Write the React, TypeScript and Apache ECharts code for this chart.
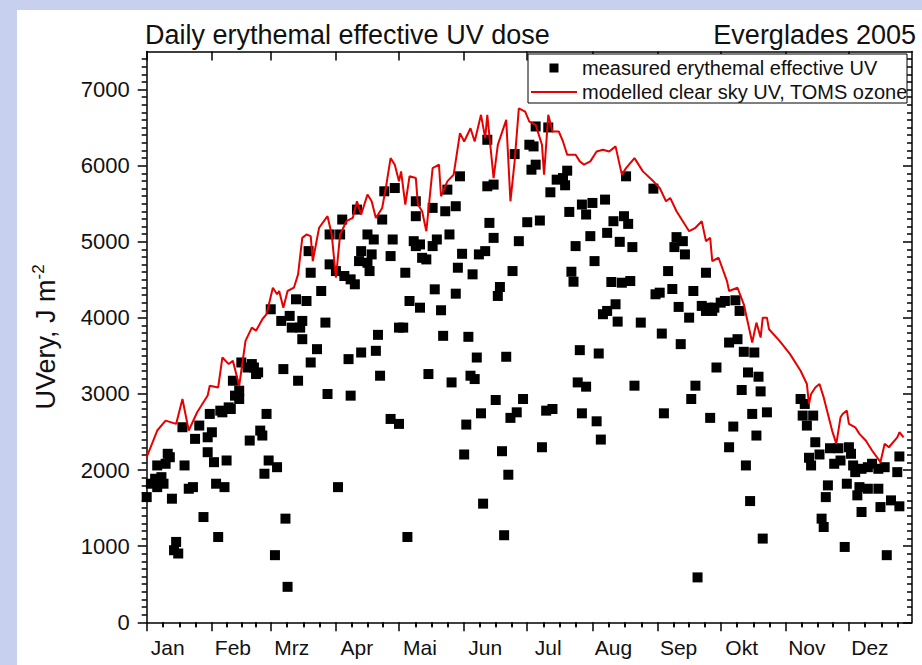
import React, { useEffect, useRef } from 'react';
import * as echarts from 'echarts';

// ---- data ----
const monthNames = ['Jan', 'Feb', 'Mrz', 'Apr', 'Mai', 'Jun', 'Jul', 'Aug', 'Sep', 'Okt', 'Nov', 'Dez'];
const monthStarts = [1, 32, 60, 91, 121, 152, 182, 213, 244, 274, 305, 335];
const yTickValues = [0, 1000, 2000, 3000, 4000, 5000, 6000, 7000];

// measured erythemal effective UV (day of year, J m-2)
const measuredDay = [
  1, 3, 5, 6, 8, 9, 6, 10, 11, 12, 13, 14, 15, 16, 18, 19, 21, 23, 24, 26, 28, 30, 30, 31, 32, 33, 34, 35, 36, 37,
  38, 39, 40, 41, 42, 43, 45, 45, 46, 49, 50, 51, 52, 53, 54, 55, 56, 57, 58, 59, 60, 62, 63, 65, 66, 67, 68, 69, 70, 72,
  73, 74, 75, 75, 77, 78, 79, 79, 82, 84, 86, 87, 88, 88, 91, 92, 93, 94, 95, 97, 98, 98, 100, 101, 102, 103, 103, 106, 106, 107,
  108, 109, 110, 111, 112, 113, 114, 117, 117, 118, 119, 121, 121, 123, 124, 125, 126, 128, 129, 129, 129, 131, 131, 132, 134, 135, 137, 137, 138, 139,
  141, 142, 143, 144, 145, 146, 148, 148, 149, 150, 151, 152, 153, 154, 155, 156, 157, 158, 159, 160, 161, 162, 163, 163, 164, 166, 166, 167, 168, 169,
  170, 171, 172, 173, 174, 175, 176, 177, 178, 180, 182, 183, 184, 185, 186, 186, 188, 189, 191, 192, 193, 194, 196, 199, 200, 201, 202, 203, 204, 205,
  206, 207, 208, 208, 210, 210, 212, 213, 214, 215, 216, 217, 218, 219, 220, 220, 222, 223, 224, 225, 226, 227, 228, 229, 230, 231, 232, 233, 236, 242,
  243, 245, 246, 247, 249, 251, 252, 253, 254, 255, 256, 257, 259, 260, 261, 262, 263, 265, 267, 267, 268, 269, 270, 271, 272, 274, 276, 278, 278, 280,
  281, 282, 283, 284, 285, 286, 287, 288, 289, 290, 291, 292, 293, 294, 296, 312, 313, 314, 315, 316, 317, 318, 319, 321, 322, 323, 324, 325, 326, 328,
  330, 331, 333, 334, 335, 336, 337, 338, 339, 340, 341, 341, 344, 344, 346, 349, 349, 350, 352, 353, 355, 358, 359, 359,
];
const measuredUV = [
  1645, 1821, 1886, 1776, 1907, 1821, 2061, 2083, 2214, 2169, 1624, 947, 1056, 904, 2563, 2061, 1755, 1776, 2410, 2585, 1383, 2431, 2235, 2738, 2497, 2104, 1821, 1121, 2781, 2759,
  1776, 2126, 2824, 2803, 3174, 2978, 2934, 3043, 3414, 3348, 2388, 3393, 3348, 3262, 3283, 2519, 2454, 1952, 2738, 2126, 4113, 882, 2038, 3960, 3327, 1362, 466, 4026, 3872, 4244,
  3174, 3872, 3960, 3720, 4222, 4877, 4593, 3414, 3589, 4353, 3938, 3000, 5096, 4703, 4615, 1776, 5096, 5292, 4550, 3458, 2978, 4506, 4441, 5423, 4746, 3545, 4877, 5096, 4724, 4615,
  4834, 5030, 3567, 3777, 3240, 5292, 5663, 4812, 2672, 5030, 5706, 2607, 3872, 3872, 4593, 1121, 4222, 5008, 5336, 5532, 4943, 4134, 4965, 4789, 4768, 3262, 5445, 4943, 4375, 5030,
  4100, 3764, 5401, 5685, 5096, 3152, 5467, 4318, 4659, 5860, 4842, 2205, 2598, 3751, 3240, 4572, 3196, 3479, 4834, 2746, 1559, 4877, 5729, 6340, 5248, 5051, 5751, 2921, 4288, 4406,
  2248, 1144, 3489, 1939, 2686, 4615, 6152, 2759, 5008, 2934, 5257, 6275, 5947, 6253, 6515, 6013, 5279, 2300, 2781, 6502, 5650, 2803, 5816, 5837, 5742, 5934, 5392, 4606, 4475, 4943,
  3152, 3576, 5489, 2746, 3096, 5358, 5074, 5510, 4746, 2641, 3532, 2401, 4048, 5554, 5117, 4091, 4471, 5270, 4179, 3951, 4999, 4462, 5336, 5860, 5235, 4484, 4930, 3109, 3938, 5698,
  4310, 4331, 3794, 2746, 4615, 4379, 4930, 5061, 4144, 3655, 5008, 4834, 4003, 2934, 4353, 3109, 590, 4157, 4091, 4593, 4134, 2686, 4091, 4134, 3348, 4200, 4222, 3676, 2300, 2572,
  4231, 3720, 4091, 3052, 3554, 2061, 3283, 1593, 2738, 3545, 2454, 3227, 3034, 1100, 2759, 2934, 2716, 2869, 2585, 2162, 2061, 2716, 2366, 2205, 1362, 1252, 1645, 1799, 2287, 2083,
  2287, 2126, 990, 1821, 2300, 2214, 2061, 1973, 1668, 1776, 2017, 1449, 2038, 1755, 2083, 2017, 1755, 1514, 2038, 882, 1602, 1973, 2179, 1524,
];

// modelled clear sky UV, TOMS ozone (day of year, J m-2)
const modelDay = [
  1, 6, 10, 15, 18, 21, 25, 30, 31, 35, 37, 40, 42, 45, 48, 51, 53, 56, 58, 61, 63, 64, 66, 68, 71, 73, 75, 77, 79, 80,
  83, 87, 89, 91, 93, 96, 99, 101, 103, 106, 108, 110, 113, 115, 117, 119, 121, 122, 124, 126, 129, 130, 132, 134, 137, 140, 141, 144, 147, 150,
  152, 155, 157, 160, 162, 163, 166, 168, 172, 174, 176, 178, 181, 183, 186, 189, 190, 192, 194, 197, 199, 201, 205, 207, 209, 212, 215, 218, 221, 224,
  227, 229, 233, 237, 242, 245, 248, 250, 253, 256, 259, 262, 265, 267, 269, 270, 273, 277, 278, 282, 285, 289, 291, 293, 294, 296, 297, 302, 307, 312,
  315, 316, 317, 319, 321, 323, 325, 327, 329, 331, 332, 334, 335, 338, 340, 343, 346, 350, 352, 354, 358, 359, 361,
];
const modelUV = [
  2170, 2520, 2650, 2607, 2934, 2520, 2760, 2980, 3108, 3086, 3480, 3393, 3436, 3108, 3698, 3872, 3830, 3982, 4048, 4396, 4310, 4353, 4134, 4353, 4396, 4572, 5051, 5096, 5074, 4746,
  5184, 5336, 5096, 4527, 5096, 5270, 5313, 5532, 5358, 5620, 5532, 5313, 5444, 5751, 6099, 6013, 5794, 5925, 5489, 5860, 5837, 5489, 5401, 5139, 5968, 6013, 5598, 5794, 5882, 6427,
  6318, 6492, 6318, 6668, 6362, 6668, 5837, 6274, 6602, 5532, 6056, 6754, 6711, 6580, 6536, 6274, 5882, 6668, 6449, 6449, 6318, 6144, 6144, 6056, 6013, 6056, 6187, 6209, 6187, 6253,
  5882, 5968, 6099, 5925, 5794, 5706, 5532, 5576, 5401, 5270, 5139, 5184, 5270, 5008, 5051, 4746, 4790, 4484, 4353, 4396, 4178, 3676, 3938, 3741, 4003, 4003, 3851, 3698, 3524, 3305,
  3131, 2869, 3000, 3086, 3131, 2955, 2738, 2519, 2345, 2693, 2738, 2781, 2607, 2562, 2476, 2388, 2257, 2104, 2345, 2300, 2431, 2497, 2431,
];

const measuredSeries = measuredDay.map((d, i) => [d, measuredUV[i]]);
const modelSeries = modelDay.map((d, i) => [d, modelUV[i]]);

// ---- tick helpers (axis decorations, not data) ----
const monthLengths = monthStarts.map((s, i) => (i < 11 ? monthStarts[i + 1] : 366) - s);
const minorXTicks = monthStarts.flatMap((s, i) => [1, 2, 3].map((k) => s + (monthLengths[i] * k) / 4));
const labelDays = monthStarts.map((s) => s + 10);
const minorYTicks: number[] = [];
for (let v = 100; v < 7500; v += 100) if (v % 1000 !== 0) minorYTicks.push(v);

const FONT = '"Liberation Sans", Arial, Helvetica, sans-serif';
const INK = '#111';
const LINE = { color: '#000', width: 1.5 };

function xAxes() {
  const base = { type: 'value', min: 1, max: 365, splitLine: { show: false } };
  return [
    {
      ...base,
      position: 'bottom',
      axisLine: { show: true, onZero: false, lineStyle: LINE },
      axisTick: { show: true, customValues: monthStarts, length: 9, lineStyle: LINE },
      axisLabel: {
        show: true,
        customValues: labelDays,
        margin: 15,
        fontSize: 21,
        fontFamily: FONT,
        color: INK,
        formatter: (v: number) => {
          const i = labelDays.findIndex((d) => Math.abs(d - v) < 0.01);
          return i >= 0 ? monthNames[i] : '';
        },
      },
    },
    {
      ...base,
      position: 'bottom',
      axisLine: { show: false },
      axisTick: { show: true, customValues: minorXTicks, length: 5, lineStyle: LINE },
      axisLabel: { show: false },
    },
    {
      ...base,
      position: 'top',
      axisLine: { show: true, onZero: false, lineStyle: LINE },
      axisTick: { show: true, inside: true, customValues: monthStarts, length: 9, lineStyle: LINE },
      axisLabel: { show: false },
    },
    {
      ...base,
      position: 'top',
      axisLine: { show: false },
      axisTick: { show: true, inside: true, customValues: minorXTicks, length: 5, lineStyle: LINE },
      axisLabel: { show: false },
    },
  ];
}

function yAxes() {
  const base = { type: 'value', min: 0, max: 7500, splitLine: { show: false } };
  return [
    {
      ...base,
      position: 'left',
      axisLine: { show: true, onZero: false, lineStyle: LINE },
      axisTick: { show: true, customValues: yTickValues, length: 9, lineStyle: LINE },
      axisLabel: {
        show: true,
        customValues: yTickValues,
        margin: 17,
        fontSize: 22,
        fontFamily: FONT,
        color: INK,
        formatter: (v: number) => String(v),
      },
      name: '{a|UVery, J m}{b|-2}',
      nameLocation: 'middle',
      nameRotate: 90,
      nameGap: 85,
      nameTextStyle: {
        rich: {
          a: { fontSize: 27, fontFamily: FONT, color: INK, lineHeight: 32 },
          b: { fontSize: 17, fontFamily: FONT, color: INK, verticalAlign: 'top', lineHeight: 32 },
        },
      },
    },
    {
      ...base,
      position: 'left',
      axisLine: { show: false },
      axisTick: { show: true, customValues: minorYTicks, length: 5, lineStyle: LINE },
      axisLabel: { show: false },
    },
    {
      ...base,
      position: 'right',
      axisLine: { show: true, onZero: false, lineStyle: LINE },
      axisTick: { show: true, inside: true, customValues: yTickValues, length: 9, lineStyle: LINE },
      axisLabel: { show: false },
    },
    {
      ...base,
      position: 'right',
      axisLine: { show: false },
      axisTick: { show: true, inside: true, customValues: minorYTicks, length: 5, lineStyle: LINE },
      axisLabel: { show: false },
    },
  ];
}

export default function App() {
  const ref = useRef<HTMLDivElement>(null);

  useEffect(() => {
    if (!ref.current) return;
    const chart = echarts.init(ref.current, null, { renderer: 'svg' });
    const legendFont = `20px ${FONT}`;
    chart.setOption({
      animation: false,
      backgroundColor: 'transparent',
      title: [
        {
          text: 'Daily erythemal effective UV dose',
          left: 145,
          top: 21,
          padding: 0,
          textStyle: { fontSize: 27, fontWeight: 'normal', fontFamily: FONT, color: INK },
        },
        {
          text: 'Everglades 2005',
          right: 6,
          top: 21,
          padding: 0,
          textStyle: { fontSize: 27, fontWeight: 'normal', fontFamily: FONT, color: INK },
        },
      ],
      grid: { left: 146.7, right: 10, top: 51.5, bottom: 42.7, containLabel: false },
      xAxis: xAxes(),
      yAxis: yAxes(),
      series: [
        {
          name: 'measured erythemal effective UV',
          type: 'scatter',
          data: measuredSeries,
          symbol: 'rect',
          symbolSize: 10,
          itemStyle: { color: '#000', opacity: 1 },
          z: 2,
        },
        {
          name: 'modelled clear sky UV, TOMS ozone',
          type: 'line',
          data: modelSeries,
          showSymbol: false,
          symbol: 'none',
          lineStyle: { color: '#e60000', width: 2 },
          z: 3,
        },
      ],
      graphic: [
        {
          type: 'rect',
          shape: { x: 528, y: 54, width: 379, height: 49 },
          style: { fill: '#fff', stroke: '#000', lineWidth: 1 },
          z: 10,
        },
        {
          type: 'rect',
          shape: { x: 549.5, y: 63.5, width: 9, height: 9 },
          style: { fill: '#000' },
          z: 11,
        },
        {
          type: 'text',
          x: 582,
          y: 68,
          style: { text: 'measured erythemal effective UV', font: legendFont, fill: INK, textVerticalAlign: 'middle' },
          z: 11,
        },
        {
          type: 'line',
          shape: { x1: 531, y1: 92, x2: 577, y2: 92 },
          style: { stroke: '#e60000', lineWidth: 2 },
          z: 11,
        },
        {
          type: 'text',
          x: 582,
          y: 92,
          style: { text: 'modelled clear sky UV, TOMS ozone', font: legendFont, fill: INK, textVerticalAlign: 'middle' },
          z: 11,
        },
      ],
    });
    return () => chart.dispose();
  }, []);

  return (
    <div style={{ position: 'fixed', left: 0, top: 0, width: 922, height: 665, background: '#c8d0f0', overflow: 'hidden' }}>
      <div style={{ position: 'absolute', left: 17, top: 10, right: 0, bottom: 0, background: '#fff' }} />
      <div ref={ref} style={{ position: 'absolute', left: 0, top: 0, width: 922, height: 665 }} />
    </div>
  );
}
